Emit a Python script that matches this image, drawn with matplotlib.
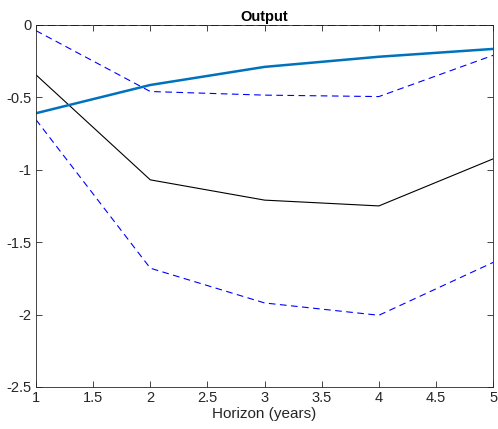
import matplotlib
matplotlib.use("Agg")
import matplotlib.pyplot as plt

horizon = [1, 2, 3, 4, 5]
irf = [-0.345, -1.07, -1.21, -1.25, -0.925]
upper = [-0.04, -0.46, -0.485, -0.495, -0.21]
lower = [-0.655, -1.68, -1.92, -2.005, -1.64]
other = [-0.61, -0.415, -0.29, -0.22, -0.166]

plt.rcParams.update({
    "font.family": ["Liberation Sans", "DejaVu Sans"],
    "font.size": 10.5,
})

fig = plt.figure(figsize=(4.98, 4.29), dpi=100)
ax = fig.add_axes([0.0723, 0.098, 0.918, 0.844])

ax.axhline(0, color="black", linestyle="--", linewidth=1.4, dashes=(4, 2))
ax.plot(horizon, irf, color="black", linewidth=0.8)
ax.plot(horizon, upper, color="blue", linestyle="--", linewidth=0.8, dashes=(6, 4))
ax.plot(horizon, lower, color="blue", linestyle="--", linewidth=0.8, dashes=(6, 4))
ax.plot(horizon, other, color="#0072BD", linewidth=1.8)

ax.set_xlim(1, 5)
ax.set_ylim(-2.5, 0)
ax.set_xticks([1, 1.5, 2, 2.5, 3, 3.5, 4, 4.5, 5])
ax.set_xticklabels(["1", "1.5", "2", "2.5", "3", "3.5", "4", "4.5", "5"])
ax.set_yticks([-2.5, -2, -1.5, -1, -0.5, 0])
ax.set_yticklabels(["-2.5", "-2", "-1.5", "-1", "-0.5", "0"])
ax.set_xlabel("Horizon (years)", labelpad=1, color="#262626", fontsize=11)
ax.set_title("Output", fontweight="bold", fontsize=10.5, pad=3)

ax.tick_params(direction="in", top=True, right=True, length=4, width=0.6,
               colors="#262626", labelcolor="#262626", pad=3)
for spine in ax.spines.values():
    spine.set_linewidth(0.6)
    spine.set_color("#262626")

fig.savefig("out.png", dpi=100)
